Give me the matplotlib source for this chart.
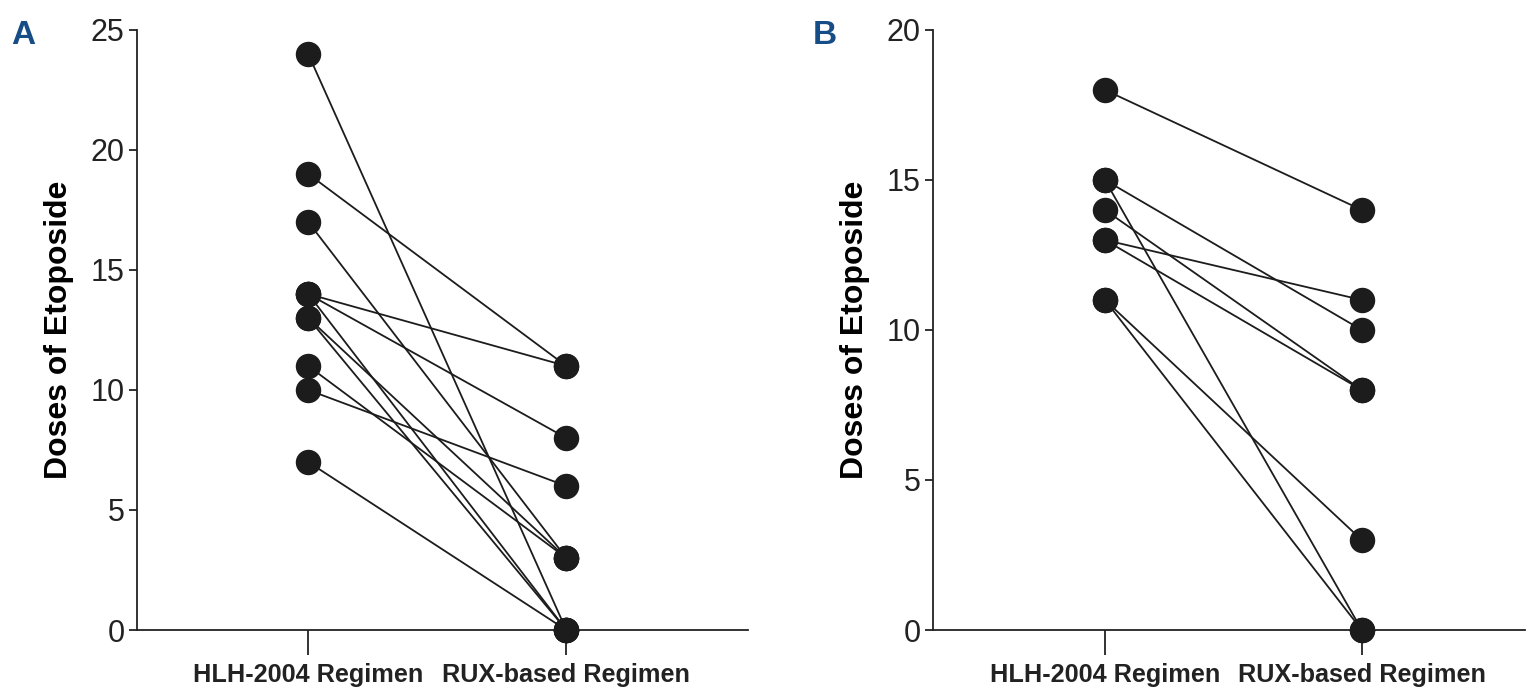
import matplotlib.pyplot as plt

plt.rcParams['font.family'] = ['Liberation Sans', 'DejaVu Sans']

groups = ['HLH-2004 Regimen', 'RUX-based Regimen']

# Panel A: paired doses (HLH-2004 -> RUX-based), one pair per patient
a_hlh = [24, 19, 17, 14, 14, 14, 13, 13, 11, 10, 7]
a_rux = [0, 11, 3, 11, 8, 0, 3, 0, 3, 6, 0]
a_ticks = [0, 5, 10, 15, 20, 25]

# Panel B
b_hlh = [18, 15, 15, 14, 13, 13, 11, 11]
b_rux = [14, 10, 0, 8, 11, 8, 3, 0]
b_ticks = [0, 5, 10, 15, 20]

fig = plt.figure(figsize=(15.28, 6.89), dpi=100)
ax_a = fig.add_axes([0.0897, 0.0856, 0.400, 0.871])
ax_b = fig.add_axes([0.6106, 0.0856, 0.3874, 0.871])

dot = '#1c1c1c'


def panel(ax, hlh, rux, ticks, xlim, letter, letter_x):
    for y0, y1 in zip(hlh, rux):
        ax.plot([0, 1], [y0, y1], color='#1c1c1c', lw=1.3, zorder=2)
    ax.scatter([0] * len(hlh), hlh, s=300, color=dot, zorder=3, clip_on=False)
    ax.scatter([1] * len(rux), rux, s=300, color=dot, zorder=3, clip_on=False)

    ax.set_xlim(*xlim)
    ax.set_ylim(0, ticks[-1])
    ax.set_yticks(ticks)
    ax.set_xticks([0, 1])
    ax.set_xticklabels(groups, fontsize=18.2, fontweight='bold')
    ax.tick_params(axis='y', labelsize=22, length=6, width=1.3, pad=3,
                   colors='#222222')
    ax.tick_params(axis='x', length=18, width=1.3, pad=6, colors='#222222')
    ax.set_ylabel('Doses of Etoposide', fontsize=23, fontweight='bold',
                  labelpad=12)
    for side in ['top', 'right']:
        ax.spines[side].set_visible(False)
    for side in ['left', 'bottom']:
        ax.spines[side].set_linewidth(1.3)
        ax.spines[side].set_color('#222222')
    fig.text(letter_x, 0.948, letter, fontsize=24, fontweight='bold',
             color='#174d87', va='center')


panel(ax_a, a_hlh, a_rux, a_ticks, (-0.663, 1.705), 'A', 0.007)
panel(ax_b, b_hlh, b_rux, b_ticks, (-0.669, 1.635), 'B', 0.532)

fig.savefig('out.png', dpi=100)
